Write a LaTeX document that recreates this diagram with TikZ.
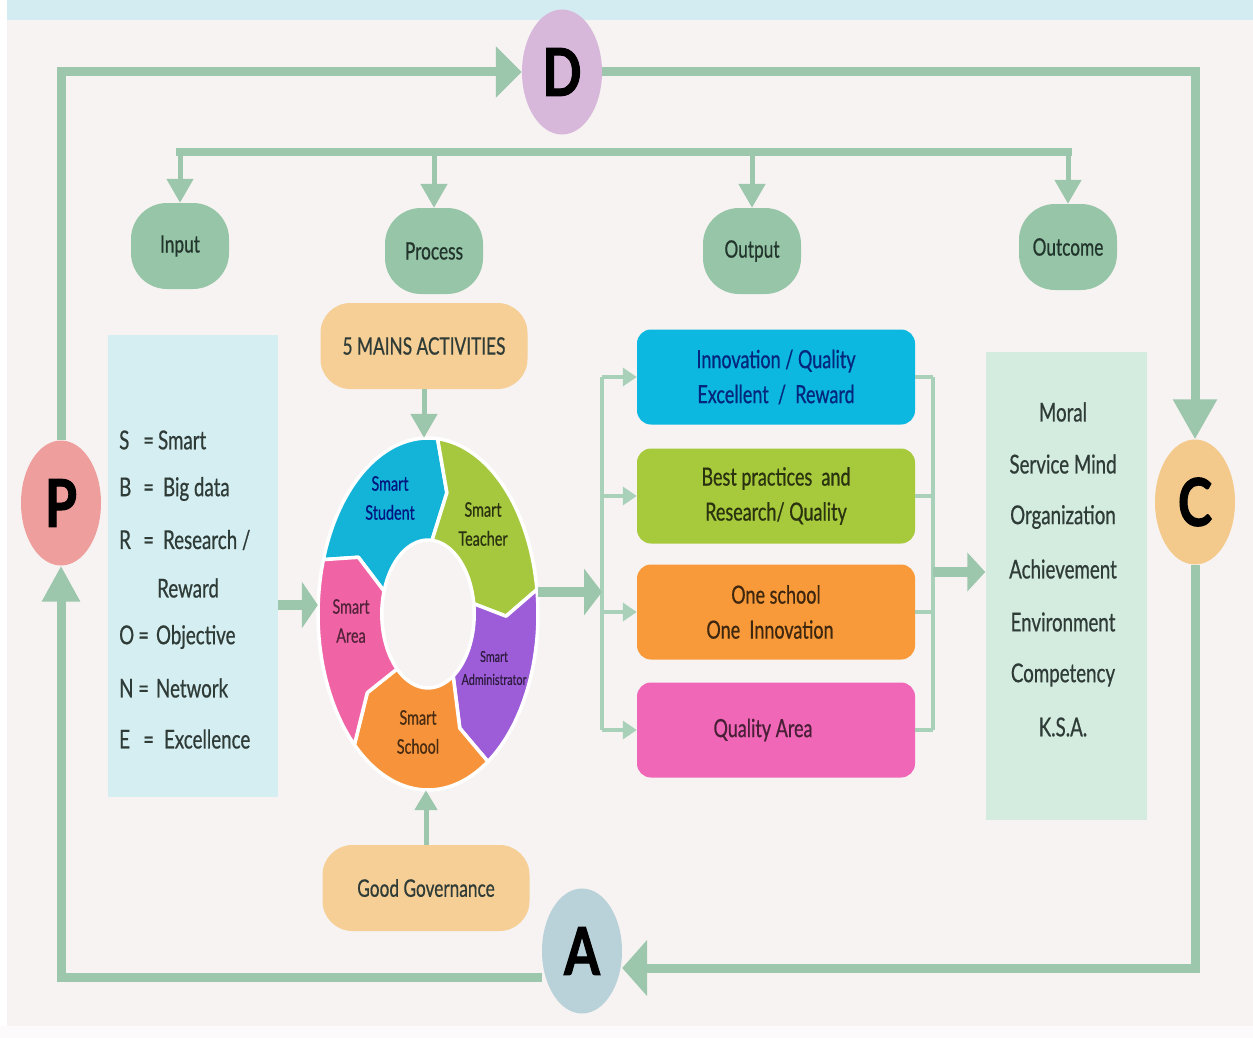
\documentclass[tikz,border=0pt]{standalone}
\usepackage{fontspec}
\setmainfont{Lato}[FakeStretch=0.72, FakeBold=0.6]
\newfontfamily\bigf{Lato}[FakeStretch=0.78, FakeBold=1.5]
\usetikzlibrary{arrows.meta,shapes.geometric,calc}
\definecolor{bgc}{HTML}{F7F3F2}
\definecolor{topband}{HTML}{D3ECF1}
\definecolor{linec}{HTML}{9CC7AC}
\definecolor{thinc}{HTML}{A9D0B9}
\definecolor{pillc}{HTML}{97C5A8}
\definecolor{pilltext}{HTML}{22352C}
\definecolor{Dcol}{HTML}{D8B8DA}
\definecolor{Pcol}{HTML}{EE9E9C}
\definecolor{Ccol}{HTML}{F4C98C}
\definecolor{Acol}{HTML}{B9D2D9}
\definecolor{peach}{HTML}{F5CF95}
\definecolor{inboxc}{HTML}{D5EEF1}
\definecolor{outboxc}{HTML}{D3ECDF}
\definecolor{txt}{HTML}{2F3B37}
\definecolor{cyanS}{HTML}{14B4D9}
\definecolor{greenT}{HTML}{A6C83E}
\definecolor{purpA}{HTML}{9D5CD8}
\definecolor{orgS}{HTML}{F7943B}
\definecolor{pinkA}{HTML}{F064A6}
\definecolor{box1}{HTML}{0CB8DF}
\definecolor{box2}{HTML}{A7C93C}
\definecolor{box3}{HTML}{F99A3A}
\definecolor{box4}{HTML}{F167B7}
\newcommand\ringseg[3]{%
  \fill[#3, draw=white, line width=3.5pt, line join=round]
    plot[domain=#1:#2, samples=40] ({cos(\x)},{sin(\x)})
    -- ({#2-9}:0.71) -- (#2:0.42)
    -- plot[domain=#2:#1, samples=30] ({0.42*cos(\x)},{0.42*sin(\x)})
    -- ({#1-9}:0.71) -- cycle;}
\newcommand\lettereq[3]{\makebox[#2][l]{#1}=\hspace{#3}}
\begin{document}
\begin{tikzpicture}[x=1pt,y=-1pt,
  letter/.style={ellipse, minimum width=80pt, minimum height=125pt, inner sep=0pt,
    font=\bigf\bfseries\fontsize{66}{66}\selectfont, text=black},
  pill/.style={rectangle, rounded corners=36pt, minimum width=98pt, minimum height=86pt,
    fill=pillc, text=pilltext, font=\fontsize{24}{24}\selectfont},
  peachbox/.style={rectangle, rounded corners=30pt, minimum width=207pt, minimum height=86pt,
    fill=peach, text=txt, font=\fontsize{24}{24}\selectfont},
  outbox/.style={rectangle, rounded corners=14pt, minimum width=278pt, minimum height=95pt,
    align=center, font=\fontsize{25}{35}\selectfont},
  ringlbl/.style={align=center, font=\fontsize{20}{29}\selectfont},
  listl/.style={anchor=west, text=txt, font=\fontsize{26}{26}\selectfont, inner sep=0pt},
  listr/.style={text=txt, font=\fontsize{26}{26}\selectfont, inner sep=0pt},
  loopline/.style={draw=linec, line width=9pt},
  busline/.style={draw=linec, line width=8pt},
  drop/.style={draw=linec, line width=5pt, -{Triangle[width=26pt,length=24pt]}},
  fat/.style={draw=linec, line width=10pt},
  thin/.style={draw=thinc, line width=4pt}
]
\useasboundingbox (0,0) rectangle (1253,1038);
\fill[bgc] (0,0) rectangle (1253,1038);
\fill[topband] (0,0) rectangle (1253,20);
\fill[white] (0,0) rectangle (7,1038);
\fill[white!60!bgc] (0,1026) rectangle (1253,1038);

% PDCA letters
\node[letter, fill=Dcol] (D) at (562,72) {D};
\node[letter, fill=Pcol] (P) at (61,503) {P};
\node[letter, fill=Ccol] (C) at (1195,502) {C};
\node[letter, fill=Acol] (A) at (582,951) {A};

% outer loop
\draw[loopline, -{Triangle[width=50pt,length=26pt]}] (P.north) |- (D.west);
\draw[loopline, -{Triangle[width=42pt,length=40pt]}] (D.east) -| (C.north);
\draw[loopline, -{Triangle[width=55pt,length=25pt]}] (C.south) |- ([yshift=-17pt]A.east);
\draw[loopline, -{Triangle[width=36pt,length=36pt]}] ([yshift=-26pt]A.west) -| (P.south);

% pills
\node[pill] (Input) at (180,246) {Input};
\node[pill] (Process) at (434,251) {Process};
\node[pill] (Output) at (752,251) {Output};
\node[pill] (Outcome) at (1068,247) {Outcome};
\coordinate (bus) at (0,152);
\draw[busline, line cap=rect] (Input.north |- bus) -- (Outcome.north |- bus);
\foreach \n in {Input,Process,Output,Outcome}
  \draw[drop] (\n.north |- bus) -- (\n.north);

% boxes
\node[fill=inboxc, minimum width=170pt, minimum height=462pt] (inbox) at (193,566) {};
\node[fill=outboxc, minimum width=161pt, minimum height=468pt] (outbx) at (1066,586) {};
\node[peachbox] (mains) at (424,346) {5 MAINS ACTIVITIES};
\node[peachbox] (gg) at (426,888) {Good Governance};

% ring
\node[ellipse, minimum width=220pt, minimum height=352pt, draw=none] (ring) at (428,614) {};
\begin{scope}[shift={(428,614)}, x=110pt, y=176pt]
  \ringseg{162}{85}{cyanS}
  \ringseg{85}{8}{greenT}
  \ringseg{8}{-57}{purpA}
  \ringseg{-57}{-132}{orgS}
  \ringseg{-132}{-198}{pinkA}
\end{scope}
\node[ringlbl, text=black!80!cyanS!60!blue] (lst) at (390,498) {Smart\\Student};
\node[ringlbl, text=black!75!greenT] (lte) at (483,524) {Smart\\Teacher};
\node[ringlbl, text=black!70!purpA, font=\fontsize{15}{23}\selectfont] (lad) at (494,668) {Smart\\Administrator};
\node[ringlbl, text=black!70!orgS] (lsc) at (418,732) {Smart\\School};
\node[ringlbl, text=black!65!pinkA] (lar) at (351,621) {Smart\\Area};

\draw[drop] (mains.south) -- (mains.south |- ring.north);
\draw[drop, -{Triangle[width=22pt,length=20pt]}] (gg.north) -- (gg.north |- ring.south);
\coordinate (ia) at (0,605);
\draw[fat, -{Triangle[width=46pt,length=16pt]}] (inbox.east |- ia) -- (ring.west |- ia);

% output boxes
\node[outbox, fill=box1, text=black!70!box1!70!blue] (o1) at (776,377) {Innovation / Quality\\Excellent \ / \ Reward};
\node[outbox, fill=box2, text=black!75!box2] (o2) at (776,496) {Best practices \ and\\Research/ Quality};
\node[outbox, fill=box3, text=black!75!box3] (o3) at (776,612) {One school\\One \ Innovation\hspace*{12pt}};
\node[outbox, fill=box4, text=black!70!box4] (o4) at (776,730) {Quality Area\hspace*{26pt}};

\coordinate (lb) at (602,0);
\coordinate (rb) at (933,0);
\draw[thin] (o1.west -| lb) -- (o4.west -| lb);
\foreach \o in {o1,o2,o3,o4}
  \draw[thin, -{Triangle[width=18pt,length=14pt]}] (\o.west -| lb) -- (\o.west);
\draw[thin] (o1.east -| rb) -- (o4.east -| rb);
\foreach \o in {o1,o2,o3,o4}
  \draw[thin] (\o.east) -- (\o.east -| rb);
\coordinate (oa) at (0,592);
\draw[fat, -{Triangle[width=46pt,length=18pt]}] (ring.east |- oa) -- (lb |- oa);
\coordinate (ob) at (0,572);
\draw[fat, -{Triangle[width=38pt,length=18pt]}] (rb |- ob) -- (outbx.west |- ob);

% input list
\node[listl] (l1) at (119,440) {\lettereq{S}{24pt}{4pt}Smart};
\node[listl] (l2) at (119,489) {\lettereq{B}{24pt}{9pt}Big data};
\node[listl] (l3) at (119,540) {\lettereq{R}{24pt}{9pt}Research /};
\node[listl] (l4) at (157,588) {Reward};
\node[listl] (l5) at (119,637) {\lettereq{O}{19pt}{7pt}Objective};
\node[listl] (l6) at (119,688) {\lettereq{N}{19pt}{7pt}Network};
\node[listl] (l7) at (119,739) {\lettereq{E}{24pt}{10pt}Excellence};

% outcome list
\node[listr] (r1) at (1063,412) {Moral};
\node[listr] (r2) at (1063,464) {Service Mind};
\node[listr] (r3) at (1063,517) {Organization};
\node[listr] (r4) at (1063,569) {Achievement};
\node[listr] (r5) at (1063,622) {Environment};
\node[listr] (r6) at (1063,675) {Competency};
\node[listr] (r7) at (1063,727) {K.S.A.};
\end{tikzpicture}
\end{document}
